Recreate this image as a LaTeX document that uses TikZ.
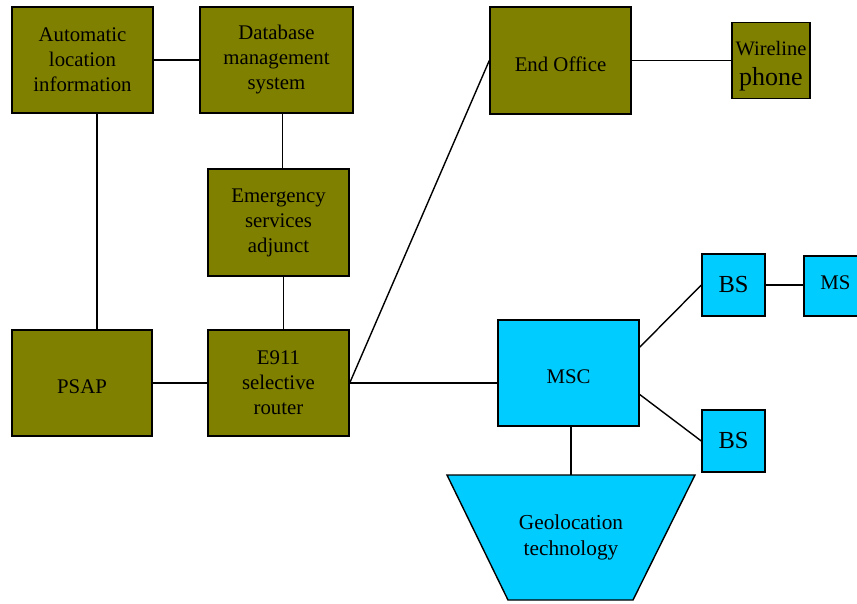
\documentclass[tikz,border=0pt]{standalone}
\usepackage{fontspec}
\setmainfont{Liberation Serif}
\usetikzlibrary{calc}
\definecolor{olivefill}{HTML}{808000}
\definecolor{cyanfill}{HTML}{00CCFF}
\newcommand{\shiftdown}[2]{\raisebox{-#1}[\height][\depth]{#2}}
\begin{document}
\begin{tikzpicture}[x=1pt,y=-1pt,
  box/.style={draw=black, line width=1.4pt, inner sep=0pt, align=center,
    font=\fontsize{20.8}{25}\selectfont},
  obox/.style={box, fill=olivefill},
  cbox/.style={box, fill=cyanfill},
  link/.style={draw=black, line width=1.4pt}]
\useasboundingbox (0,0) rectangle (857,603);
\clip (0,0) rectangle (857,603);
% olive boxes
\node[obox, minimum width=141pt, minimum height=106pt] (ali) at (82.5,60) {Automatic\\location\\information};
\node[obox, minimum width=153pt, minimum height=106pt] (dbms) at (276.5,60) {Database\\management\\system};
\node[obox, minimum width=141pt, minimum height=107pt] (esa) at (278.5,222.5) {Emergency\\services\\adjunct};
\node[obox, minimum width=141pt, minimum height=106pt] (e911) at (278.5,383) {E911\\selective\\router};
\node[obox, minimum width=140pt, minimum height=106pt] (psap) at (82,383) {\shiftdown{4pt}{PSAP}};
\node[obox, minimum width=141pt, minimum height=107pt] (eo) at (560.5,60.5) {\shiftdown{4pt}{End Office}};
\node[obox, minimum width=78pt, minimum height=76pt] (wire) at (771,60.5)
  {\shiftdown{5pt}{\begin{tabular}{@{}c@{}}{\fontsize{20.5}{22}\selectfont Wireline}\\[5pt]{\fontsize{26}{28}\selectfont phone}\end{tabular}}};
% cyan boxes
\node[cbox, minimum width=141pt, minimum height=106pt] (msc) at (568.5,373) {\shiftdown{3.5pt}{MSC}};
\node[cbox, minimum width=63pt, minimum height=62pt, font=\fontsize{24.5}{28}\selectfont] (bs1) at (733.5,285) {BS};
\node[cbox, minimum width=63pt, minimum height=60pt] (ms) at (835.5,286) {\shiftdown{-3pt}{MS}};
\node[cbox, minimum width=63pt, minimum height=62pt, font=\fontsize{24.5}{28}\selectfont] (bs2) at (733.5,441) {BS};
% geolocation trapezoid
\draw[fill=cyanfill, draw=black, line width=1.4pt] (447,475) -- (695,475) -- (633,600) -- (508,600) -- cycle;
\coordinate (geotop) at (571,475);
\node[align=center, inner sep=0pt, font=\fontsize{21.3}{26}\selectfont] (geo) at (571,537) {Geolocation\\technology};
% connectors
\draw[link] (ali.east) -- (dbms.west);
\draw[link] ([xshift=14.5pt]ali.south) -- ([xshift=14.5pt]ali.south |- psap.north);
\draw[link] ([xshift=6pt]dbms.south) -- ([xshift=6pt]dbms.south |- esa.north);
\draw[link] ([xshift=5pt]esa.south) -- ([xshift=5pt]esa.south |- e911.north);
\draw[link] (psap.east) -- (e911.west);
\draw[link] (e911.east) -- (eo.west);
\draw[link] (e911.east) -- (e911.east -| msc.west);
\draw[link] (eo.east) -- (wire.west);
\draw[link] ($(msc.north east)!0.26!(msc.south east)$) -- (bs1.west);
\draw[link] ($(msc.north east)!0.7!(msc.south east)$) -- (bs2.west);
\draw[link] (bs1.east) -- (bs1.east -| ms.west);
\draw[link] (geotop |- msc.south) -- (geotop);
\end{tikzpicture}
\end{document}
